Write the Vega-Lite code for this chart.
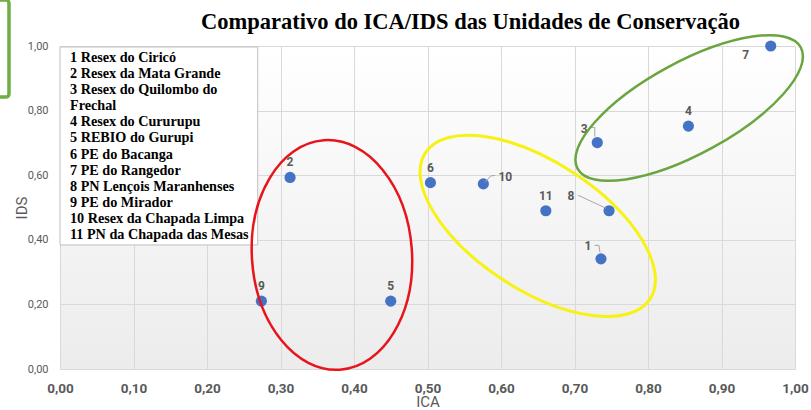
{
  "$schema": "https://vega.github.io/schema/vega-lite/v6.json",
  "width": 735,
  "height": 323,
  "autosize": {"type": "none"},
  "padding": {"left": 60, "top": 46, "right": 16, "bottom": 41},
  "background": "white",
  "view": {"stroke": null, "fill": {"gradient": "linear", "x1": 0, "y1": 0, "x2": 0, "y2": 1, "stops": [{"offset": 0, "color": "#ffffff"}, {"offset": 1, "color": "#ececec"}]}},
  "title": {
    "text": "Comparativo do ICA/IDS das Unidades de Conservação",
    "font": "Liberation Serif",
    "fontSize": 22.5,
    "fontWeight": "bold",
    "color": "#000000",
    "anchor": "middle",
    "dx": 43,
    "baseline": "alphabetic",
    "offset": -53
  },
  "config": {
    "axis": {
      "grid": true,
      "gridColor": "#d9d9d9",
      "gridWidth": 1,
      "ticks": false,
      "labelFont": "Roboto",
      "labelColor": "#595959",
      "labelFlush": false,
      "labelOverlap": false,
      "titleFont": "Roboto",
      "titleFontSize": 15,
      "titleFontWeight": "normal",
      "titleColor": "#595959"
    },
    "axisX": {"domainColor": "#d9d9d9", "labelFontSize": 13.5, "labelFontWeight": "bold", "labelPadding": 12, "titleBaseline": "alphabetic", "titleY": 37},
    "axisY": {"domain": false, "labelFontSize": 11, "labelPadding": 12, "titlePadding": -2}
  },
  "datasets": {
    "unidades": [
      {"id": 1, "nome": "Resex do Ciricó", "ica": 0.736, "ids": 0.341},
      {"id": 2, "nome": "Resex da Mata Grande", "ica": 0.313, "ids": 0.593},
      {"id": 3, "nome": "Resex do Quilombo do Frechal", "ica": 0.731, "ids": 0.701},
      {"id": 4, "nome": "Resex do Cururupu", "ica": 0.855, "ids": 0.752},
      {"id": 5, "nome": "REBIO do Gurupi", "ica": 0.45, "ids": 0.21},
      {"id": 6, "nome": "PE do Bacanga", "ica": 0.504, "ids": 0.577},
      {"id": 7, "nome": "PE do Rangedor", "ica": 0.967, "ids": 1.0},
      {"id": 8, "nome": "PN Lençois Maranhenses", "ica": 0.747, "ids": 0.49},
      {"id": 9, "nome": "PE do Mirador", "ica": 0.274, "ids": 0.21},
      {"id": 10, "nome": "Resex da Chapada Limpa", "ica": 0.576, "ids": 0.573},
      {"id": 11, "nome": "PN da Chapada das Mesas", "ica": 0.661, "ids": 0.49}
    ],
    "grupos": [
      {"grupo": "vermelho", "ica": 0.37, "ids": 0.353},
      {"grupo": "amarelo", "ica": 0.65, "ids": 0.443},
      {"grupo": "verde", "ica": 0.856, "ids": 0.808}
    ]
  },
  "layer": [
    {
      "data": {"name": "unidades"},
      "mark": {"type": "circle", "size": 125, "color": "#4472C4", "opacity": 1},
      "encoding": {
        "x": {"field": "ica", "type": "quantitative", "scale": {"domain": [0, 1], "nice": false, "zero": true}, "axis": {"title": "ICA", "values": [0, 0.1, 0.2, 0.3, 0.4, 0.5, 0.6, 0.7, 0.8, 0.9, 1], "labelExpr": "replace(format(datum.value, '.2f'), '.', ',')"}},
        "y": {"field": "ids", "type": "quantitative", "scale": {"domain": [0, 1], "nice": false, "zero": true}, "axis": {"title": "IDS", "values": [0, 0.1, 0.2, 0.3, 0.4, 0.5, 0.6, 0.7, 0.8, 0.9, 1], "labelExpr": "replace(format(datum.value, '.2f'), '.', ',')"}}
      }
    },
    {
      "data": {"name": "unidades"},
      "transform": [{"filter": {"field": "id", "oneOf": [2, 4, 5, 6, 9, 11]}}],
      "mark": {"type": "text", "font": "Roboto", "fontSize": 12, "fontWeight": "bold", "color": "#595959", "align": "center", "baseline": "middle", "dy": -15},
      "encoding": {"x": {"field": "ica", "type": "quantitative"}, "y": {"field": "ids", "type": "quantitative"}, "text": {"field": "id"}}
    },
    {
      "data": {"name": "unidades"},
      "transform": [{"filter": "datum.id == 7"}],
      "mark": {"type": "text", "font": "Roboto", "fontSize": 12, "fontWeight": "bold", "color": "#595959", "align": "center", "baseline": "middle", "dx": -25, "dy": 9},
      "encoding": {"x": {"field": "ica", "type": "quantitative"}, "y": {"field": "ids", "type": "quantitative"}, "text": {"field": "id"}}
    },
    {
      "data": {"name": "unidades"},
      "transform": [{"filter": "datum.id == 3"}],
      "mark": {"type": "text", "font": "Roboto", "fontSize": 12, "fontWeight": "bold", "color": "#595959", "align": "center", "baseline": "middle", "dx": -13, "dy": -14},
      "encoding": {"x": {"field": "ica", "type": "quantitative"}, "y": {"field": "ids", "type": "quantitative"}, "text": {"field": "id"}}
    },
    {
      "data": {"name": "unidades"},
      "transform": [{"filter": "datum.id == 8"}],
      "mark": {"type": "text", "font": "Roboto", "fontSize": 12, "fontWeight": "bold", "color": "#595959", "align": "center", "baseline": "middle", "dx": -38, "dy": -15},
      "encoding": {"x": {"field": "ica", "type": "quantitative"}, "y": {"field": "ids", "type": "quantitative"}, "text": {"field": "id"}}
    },
    {
      "data": {"name": "unidades"},
      "transform": [{"filter": "datum.id == 1"}],
      "mark": {"type": "text", "font": "Roboto", "fontSize": 12, "fontWeight": "bold", "color": "#595959", "align": "center", "baseline": "middle", "dx": -13, "dy": -13},
      "encoding": {"x": {"field": "ica", "type": "quantitative"}, "y": {"field": "ids", "type": "quantitative"}, "text": {"field": "id"}}
    },
    {
      "data": {"name": "unidades"},
      "transform": [{"filter": "datum.id == 10"}],
      "mark": {"type": "text", "font": "Roboto", "fontSize": 12, "fontWeight": "bold", "color": "#595959", "align": "center", "baseline": "middle", "dx": 22, "dy": -7},
      "encoding": {"x": {"field": "ica", "type": "quantitative"}, "y": {"field": "ids", "type": "quantitative"}, "text": {"field": "id"}}
    },
    {
      "data": {"name": "unidades"},
      "transform": [{"filter": "datum.id == 8"}],
      "mark": {"type": "rule", "color": "#a6a6a6", "strokeWidth": 1, "xOffset": -31, "yOffset": -15.5, "x2Offset": -3, "y2Offset": -2.5},
      "encoding": {"x": {"field": "ica", "type": "quantitative"}, "y": {"field": "ids", "type": "quantitative"}, "x2": {"field": "ica"}, "y2": {"field": "ids"}}
    },
    {
      "data": {"name": "unidades"},
      "transform": [{"filter": "datum.id == 10"}],
      "mark": {"type": "rule", "color": "#a6a6a6", "strokeWidth": 1, "xOffset": 1.5, "yOffset": -1.5, "x2Offset": 7.5, "y2Offset": -8},
      "encoding": {"x": {"field": "ica", "type": "quantitative"}, "y": {"field": "ids", "type": "quantitative"}, "x2": {"field": "ica"}, "y2": {"field": "ids"}}
    },
    {
      "data": {"name": "unidades"},
      "transform": [{"filter": "datum.id == 10"}],
      "mark": {"type": "rule", "color": "#a6a6a6", "strokeWidth": 1, "xOffset": 7.5, "yOffset": -8, "x2Offset": 12, "y2Offset": -8.5},
      "encoding": {"x": {"field": "ica", "type": "quantitative"}, "y": {"field": "ids", "type": "quantitative"}, "x2": {"field": "ica"}, "y2": {"field": "ids"}}
    },
    {
      "data": {"name": "unidades"},
      "transform": [{"filter": "datum.id == 3"}],
      "mark": {"type": "rule", "color": "#a6a6a6", "strokeWidth": 1, "xOffset": -6.5, "yOffset": -15, "x2Offset": -2.5, "y2Offset": -15},
      "encoding": {"x": {"field": "ica", "type": "quantitative"}, "y": {"field": "ids", "type": "quantitative"}, "x2": {"field": "ica"}, "y2": {"field": "ids"}}
    },
    {
      "data": {"name": "unidades"},
      "transform": [{"filter": "datum.id == 3"}],
      "mark": {"type": "rule", "color": "#a6a6a6", "strokeWidth": 1, "xOffset": -2.5, "yOffset": -15, "x2Offset": -2.5, "y2Offset": -6},
      "encoding": {"x": {"field": "ica", "type": "quantitative"}, "y": {"field": "ids", "type": "quantitative"}, "x2": {"field": "ica"}, "y2": {"field": "ids"}}
    },
    {
      "data": {"name": "unidades"},
      "transform": [{"filter": "datum.id == 1"}],
      "mark": {"type": "rule", "color": "#a6a6a6", "strokeWidth": 1, "xOffset": -6.5, "yOffset": -13.5, "x2Offset": -2, "y2Offset": -13.5},
      "encoding": {"x": {"field": "ica", "type": "quantitative"}, "y": {"field": "ids", "type": "quantitative"}, "x2": {"field": "ica"}, "y2": {"field": "ids"}}
    },
    {
      "data": {"name": "unidades"},
      "transform": [{"filter": "datum.id == 1"}],
      "mark": {"type": "rule", "color": "#a6a6a6", "strokeWidth": 1, "xOffset": -2, "yOffset": -13.5, "x2Offset": -1, "y2Offset": -6.5},
      "encoding": {"x": {"field": "ica", "type": "quantitative"}, "y": {"field": "ids", "type": "quantitative"}, "x2": {"field": "ica"}, "y2": {"field": "ids"}}
    },
    {
      "data": {"values": [{}]},
      "mark": {"type": "rect", "fill": "#ffffff", "stroke": "#bfbfbf", "strokeWidth": 1},
      "encoding": {
        "x": {"datum": 0.0, "type": "quantitative"},
        "x2": {"datum": 0.269},
        "y": {"datum": 0.997, "type": "quantitative"},
        "y2": {"datum": 0.384}
      }
    },
    {
      "data": {"values": [{}]},
      "mark": {
        "type": "text",
        "font": "Liberation Serif",
        "fontSize": 14.2,
        "fontWeight": "bold",
        "color": "#000000",
        "align": "left",
        "baseline": "middle",
        "lineHeight": 16.1,
        "text": ["1 Resex do Ciricó", "2 Resex da Mata Grande", "3 Resex do Quilombo do", "Frechal", "4 Resex do Cururupu", "5 REBIO do Gurupi", "6 PE do Bacanga", "7 PE do Rangedor", "8 PN Lençois Maranhenses", "9 PE do Mirador", "10 Resex da Chapada Limpa", "11 PN da Chapada das Mesas"]
      },
      "encoding": {
        "x": {"datum": 0.0136, "type": "quantitative"},
        "y": {"datum": 0.963, "type": "quantitative"}
      }
    },
    {
      "data": {"name": "grupos"},
      "transform": [{"filter": "datum.grupo == 'vermelho'"}],
      "mark": {"type": "point", "filled": false, "opacity": 1, "stroke": "#e8141c", "strokeWidth": 2.5, "size": 52900, "angle": 86, "shape": "M 1 0 C 1 0.384 0.552 0.696 0 0.696 C -0.552 0.696 -1 0.384 -1 0 C -1 -0.384 -0.552 -0.696 0 -0.696 C 0.552 -0.696 1 -0.384 1 0 Z"},
      "encoding": {"x": {"field": "ica", "type": "quantitative"}, "y": {"field": "ids", "type": "quantitative"}}
    },
    {
      "data": {"name": "grupos"},
      "transform": [{"filter": "datum.grupo == 'amarelo'"}],
      "mark": {"type": "point", "filled": false, "opacity": 1, "stroke": "#f7f214", "strokeWidth": 3, "size": 71824, "angle": 33, "shape": "M 1 0 C 1 0.264 0.552 0.478 0 0.478 C -0.552 0.478 -1 0.264 -1 0 C -1 -0.264 -0.552 -0.478 0 -0.478 C 0.552 -0.478 1 -0.264 1 0 Z"},
      "encoding": {"x": {"field": "ica", "type": "quantitative"}, "y": {"field": "ids", "type": "quantitative"}}
    },
    {
      "data": {"name": "grupos"},
      "transform": [{"filter": "datum.grupo == 'verde'"}],
      "mark": {"type": "point", "filled": false, "opacity": 1, "stroke": "#6aa53f", "strokeWidth": 2.5, "size": 64516, "angle": -28.5, "shape": "M 1 0 C 1 0.2 0.552 0.362 0 0.362 C -0.552 0.362 -1 0.2 -1 0 C -1 -0.2 -0.552 -0.362 0 -0.362 C 0.552 -0.362 1 -0.2 1 0 Z"},
      "encoding": {"x": {"field": "ica", "type": "quantitative"}, "y": {"field": "ids", "type": "quantitative"}}
    },
    {
      "data": {"values": [{}]},
      "mark": {"type": "rect", "filled": false, "fill": null, "stroke": "#70AD47", "strokeWidth": 3.5, "cornerRadius": 3},
      "encoding": {
        "x": {"datum": -0.3, "type": "quantitative"},
        "x2": {"datum": -0.0694},
        "y": {"datum": 0.842, "type": "quantitative"},
        "y2": {"datum": 1.1424}
      }
    }
  ]
}
